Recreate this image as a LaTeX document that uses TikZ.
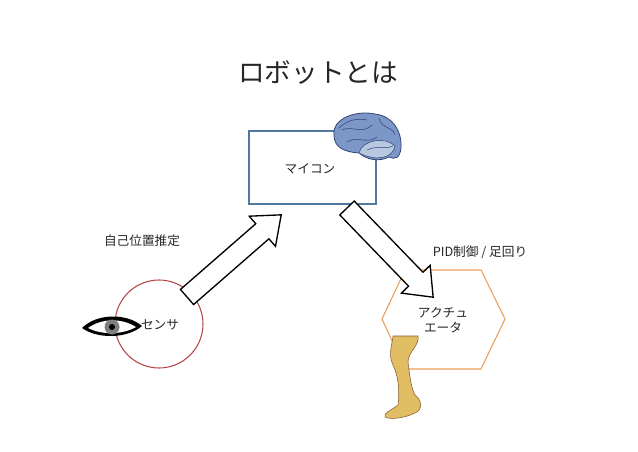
\documentclass[tikz,border=0pt]{standalone}
\usepackage{fontspec}
\setmainfont{Noto Sans CJK JP}
\usetikzlibrary{shapes.geometric}
\definecolor{boxc}{RGB}{80,120,160}
\definecolor{brain}{RGB}{125,150,200}
\definecolor{brainl}{RGB}{185,200,225}
\definecolor{brainline}{RGB}{50,70,120}
\definecolor{hexc}{RGB}{230,160,90}
\definecolor{circc}{RGB}{180,70,70}
\definecolor{legc}{RGB}{225,190,100}
\tikzset{lbl/.style={font=\fontsize{9.5}{11}\selectfont, text=black!85},
blockarrow/.style={draw=black, line width=1pt, fill=white, line join=miter}}
\begin{document}
\begin{tikzpicture}[x=0.75pt,y=-0.75pt]
\useasboundingbox (0,0) rectangle (638,452);
\node[font=\fontsize{20}{24}\selectfont, text=black!85] (title) at (318,73) {ロボットとは};
% micro
\node[draw=boxc, line width=0.8pt, minimum width=95.25pt, minimum height=54.75pt] (mcu) at (312.5,167.5) {};
\node[lbl] (mcut) at (310,169) {マイコン};
% brain
\begin{scope}[shift={(367,140)}]
\fill[brain, draw=brainline, line width=0.6pt] (-33,-5) .. controls (-35,-22) and (-10,-30) .. (8,-26) .. controls (25,-24) and (35,-10) .. (34,8) .. controls (33,18) and (28,20) .. (22,17) .. controls (12,22) and (0,20) .. (-8,13) .. controls (-22,12) and (-33,8) .. (-33,-5) -- cycle;
\fill[brainl, draw=brainline, line width=0.4pt] (-8,13) .. controls (-5,0) and (18,-4) .. (28,6) .. controls (26,18) and (10,22) .. (-8,13);
\draw[brainline, line width=0.4pt] (-25,-10) .. controls (-15,-15) and (-5,-5) .. (5,-15) (-20,2) .. controls (-10,-5) and (0,5) .. (10,-3) (0,10) .. controls (10,5) and (18,10) .. (26,6) (12,-22) .. controls (15,-10) and (25,-15) .. (28,-5) (-28,-12) .. controls (-20,-20) and (-10,-22) .. (0,-20);
\end{scope}
% sensor
\node[draw=circc, line width=0.8pt, circle, minimum size=66pt] (sens) at (159,324) {};
\node[lbl] (senst) at (160,325) {センサ};
% eye
\begin{scope}[shift={(112,327)}]
\fill[black] (-30,1) .. controls (-15,-14) and (15,-14) .. (30,-1) .. controls (15,12) and (-15,12) .. (-30,1) -- cycle;
\fill[white] (-24,1) .. controls (-10,-9) and (10,-9) .. (24,0) .. controls (10,8) and (-10,8) .. (-24,1) -- cycle;
\fill[gray] (0,0) circle (7.5);
\fill[black] (0,0) circle (3);
\end{scope}
% actuator
\draw[hexc, line width=0.8pt] (382,319) -- (405,270) -- (481,270) -- (505,319) -- (481,369) -- (405,369) -- cycle;
\coordinate (act) at (443,319);
\node[lbl, align=center] (actt) at (443,320) {アクチュ\\エータ};
% leg
\fill[legc, draw=brown!70!black, line width=0.4pt] (393,336) -- (418,336) .. controls (420,345) and (408,352) .. (408,362) .. controls (410,380) and (412,390) .. (415,395) .. controls (422,400) and (423,410) .. (415,413) .. controls (405,418) and (390,420) .. (385,417) .. controls (383,413) and (392,410) .. (398,405) .. controls (400,390) and (398,375) .. (393,365) .. controls (388,355) and (392,345) .. (393,336) -- cycle;
% arrows
\coordinate (a1) at (187,297);
\coordinate (a2) at (347,208);
\begin{scope}[shift={(a1)}, rotate=41.1]
\draw[blockarrow] (0,-10) -- (100,-10) -- (100,-20) -- (125,0) -- (100,20) -- (100,10) -- (0,10) -- cycle;
\end{scope}
\begin{scope}[shift={(a2)}, rotate=-46]
\draw[blockarrow] (0,-10) -- (99,-10) -- (99,-20) -- (124,0) -- (99,20) -- (99,10) -- (0,10) -- cycle;
\end{scope}
\node[lbl] (l1) at (142,241) {自己位置推定};
\node[lbl] (l2) at (480,252) {PID制御 / 足回り};
\end{tikzpicture}
\end{document}
